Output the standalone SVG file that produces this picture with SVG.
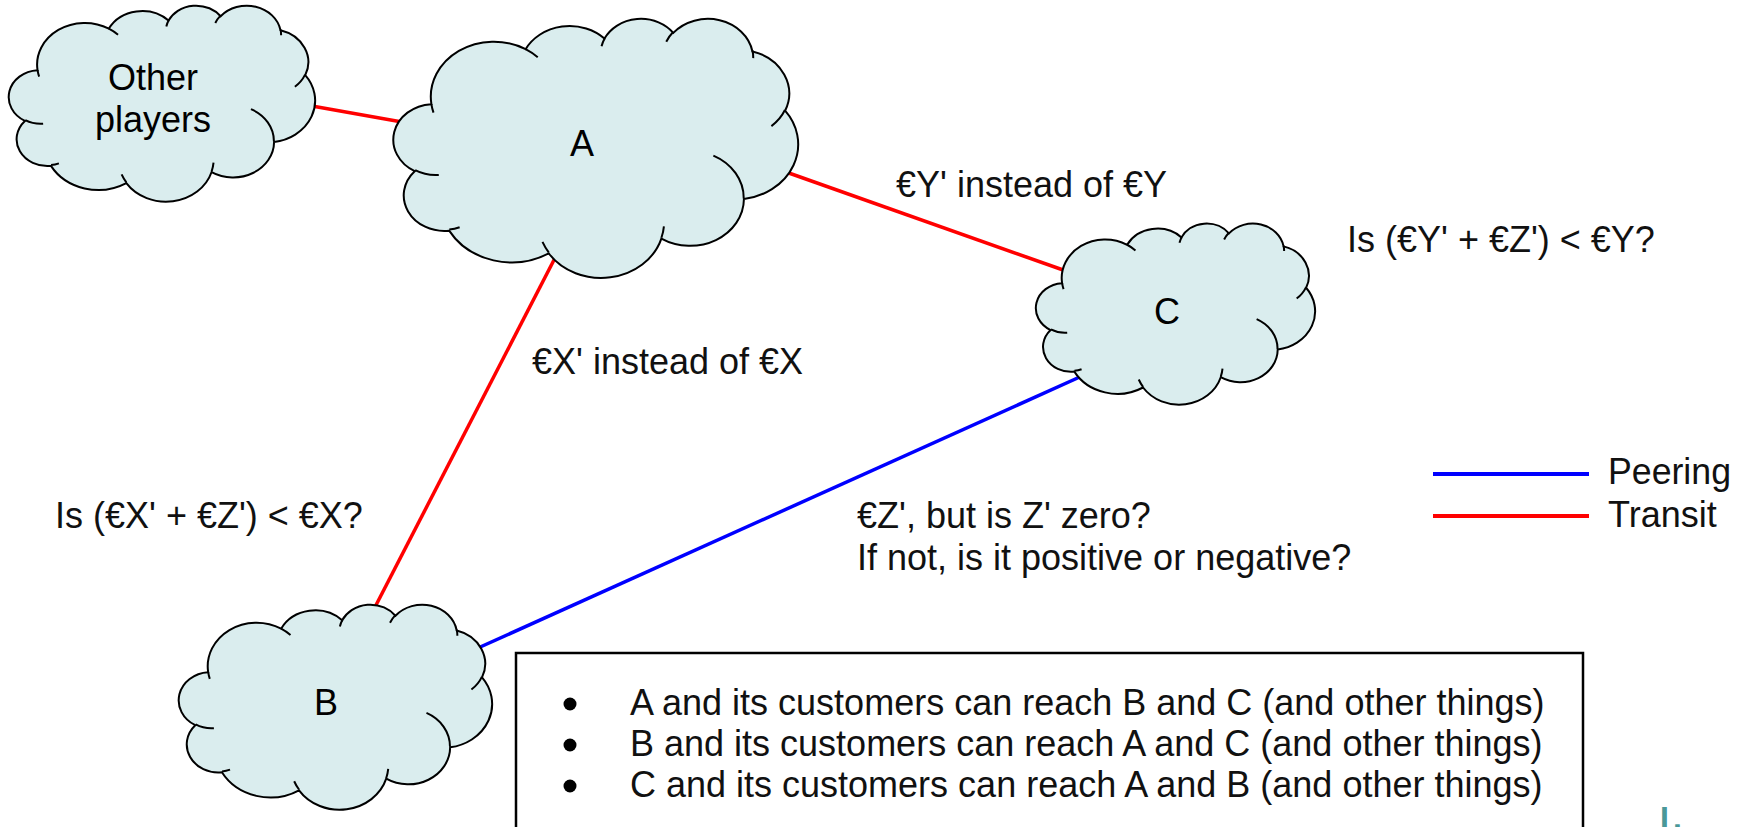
<svg xmlns="http://www.w3.org/2000/svg" xmlns:xlink="http://www.w3.org/1999/xlink" width="1738" height="827" viewBox="0 0 1738 827">
<style>
  .body { fill: #daedee; stroke: #000; stroke-width: 2; vector-effect: non-scaling-stroke; }
  .hooks { fill: none; stroke: #000; stroke-width: 2; vector-effect: non-scaling-stroke; }
  .transit { stroke: #ff0000; stroke-width: 3.5; fill: none; }
  .peering { stroke: #0000ff; stroke-width: 3.5; fill: none; }
  .node-label { font-family: "Liberation Sans", Arial, sans-serif; font-size: 36px; fill: #000; text-anchor: middle; }
  .label { font-family: "Liberation Sans", Arial, sans-serif; font-size: 36px; fill: #111; }
  .bullet { fill: #000; }
</style>
<defs>
  <g id="cloud">
    <path class="body" d="M3900 14370 A6753 9190 0 0 1 14004 5202 A5333 7267 0 0 1 22455 3432 A4365 5945 0 0 1 29833 2481 A4857 6595 0 0 1 38318 5576 A5333 7273 0 0 1 41819 15460 A6775 9220 0 0 1 37404 30201 A5785 7867 0 0 1 28555 36811 A6752 9215 0 0 1 16480 39263 A7720 10543 0 0 1 5804 35468 A4360 5918 0 0 1 2113 25545 A4345 5945 0 0 1 3900 14370 Z"/>
    <path class="hooks" d="M4693 26177 A4345 5945 0 0 1 2160 25380 M6928 34899 A4360 5918 0 0 1 5820 35281 M16478 39090 A6752 9215 0 0 1 15810 37351 M28827 34751 A6752 9215 0 0 1 28560 36661 M34129 22954 A5785 7867 0 0 1 37381 30090 M41798 15354 A5333 7273 0 0 1 40349 18031 M38324 5426 A4857 6595 0 0 1 38400 6690 M29078 3952 A4857 6595 0 0 1 29819 2341 M22141 4720 A4365 5945 0 0 1 22500 3330 M14000 5192 A6753 9190 0 0 1 15301 6541 M4127 15789 A6753 9190 0 0 1 3900 14371"/>
  </g>
</defs>
<rect width="1738" height="827" fill="#fff"/>

<g id="connectors">
  <line class="transit" x1="312" y1="106" x2="402" y2="122"/>
  <line class="transit" x1="786" y1="172" x2="1066" y2="271"/>
  <line class="transit" x1="555" y1="258" x2="374" y2="609"/>
  <line class="peering" x1="1082" y1="376" x2="478" y2="648"/>
</g>

<g id="node-other">
  <use xlink:href="#cloud" href="#cloud" transform="translate(10,5) scale(0.0070602,0.0045370)"/>
  <text class="node-label" x="153" y="90">Other</text>
  <text class="node-label" x="153" y="132">players</text>
</g>
<g id="node-a">
  <use xlink:href="#cloud" href="#cloud" transform="translate(395,18) scale(0.0093287,0.0059954)"/>
  <text class="node-label" x="582" y="156">A</text>
</g>
<g id="node-c">
  <use xlink:href="#cloud" href="#cloud" transform="translate(1037,223) scale(0.0064352,0.0041898)"/>
  <text class="node-label" x="1167" y="324">C</text>
</g>
<g id="node-b">
  <use xlink:href="#cloud" href="#cloud" transform="translate(180,604) scale(0.0072222,0.0047454)"/>
  <text class="node-label" x="326" y="715">B</text>
</g>

<g id="labels">
  <text class="label" x="896" y="197">€Y' instead of €Y</text>
  <text class="label" x="1347" y="252">Is (€Y' + €Z') &lt; €Y?</text>
  <text class="label" x="532" y="374">€X' instead of €X</text>
  <text class="label" x="55" y="528">Is (€X' + €Z') &lt; €X?</text>
  <text class="label" x="857" y="528">€Z', but is Z' zero?</text>
  <text class="label" x="857" y="570">If not, is it positive or negative?</text>
</g>

<g id="legend">
  <line class="peering" x1="1433" y1="474" x2="1589" y2="474" style="stroke-width:4"/>
  <line class="transit" x1="1433" y1="516" x2="1589" y2="516" style="stroke-width:4"/>
  <text class="label" x="1608" y="484" textLength="123" lengthAdjust="spacingAndGlyphs">Peering</text>
  <text class="label" x="1608" y="527">Transit</text>
</g>

<g id="notes">
  <rect x="516" y="653" width="1067" height="200" fill="#fff" stroke="#000" stroke-width="2.5"/>
  <circle class="bullet" cx="570" cy="704" r="6.5"/>
  <circle class="bullet" cx="570" cy="745" r="6.5"/>
  <circle class="bullet" cx="570" cy="786" r="6.5"/>
  <text class="label" x="630" y="715">A and its customers can reach B and C (and other things)</text>
  <text class="label" x="630" y="756">B and its customers can reach A and C (and other things)</text>
  <text class="label" x="630" y="797">C and its customers can reach A and B (and other things)</text>
</g>

<text x="1660" y="829" font-family="Liberation Sans, Arial, sans-serif" font-size="32" font-weight="bold" fill="#4a9898" letter-spacing="4">I.</text>
</svg>
